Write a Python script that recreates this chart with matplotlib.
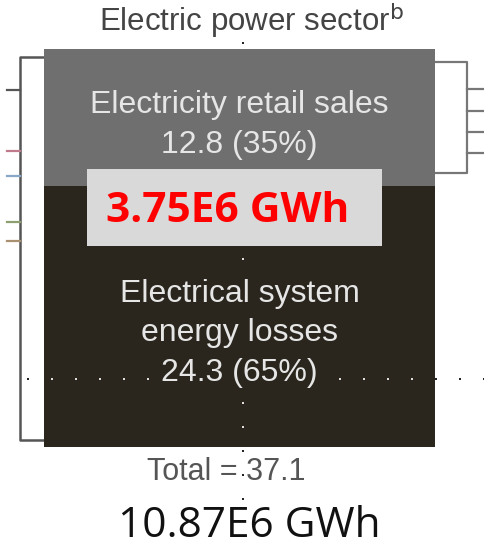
#!/usr/bin/env python3
"""
Electric power sector box: retail sales vs system energy losses
"""
import matplotlib
matplotlib.use("Agg")
import matplotlib.pyplot as plt
from matplotlib.patches import Rectangle

W, H = 485, 546

# Data
segments = ["Electricity retail sales", "Electrical system\nenergy losses"]
values = [12.8, 24.3]
shares = [35, 65]
total = 37.1
seg_colors = ["#6f6f6f", "#2a261d"]
overlay_label = "3.75E6 GWh"
total_label = "10.87E6 GWh"
title = "Electric power sector$^{\\mathrm{b}}$"

# Input / output flow colours (left and right of the box)
in_colors = ["#555555", "#c07a8c", "#8aa6c8", "#8ea070", "#a89070"]
in_rows = [90, 151, 176, 222, 241]
out_rows = [89, 111, 132, 153]

fig = plt.figure(figsize=(W / 100, H / 100), dpi=100)
fig.patch.set_facecolor("white")

# Overlay axes in pixel coordinates for the connector lines and labels
ov = fig.add_axes([0, 0, 1, 1], zorder=0)
ov.set_xlim(0, W)
ov.set_ylim(H, 0)
ov.axis("off")

line_kw = dict(color="#555555", lw=1.8, solid_capstyle="butt")
# left bracket
ov.plot([44, 20, 20, 44], [57, 57, 440, 440], **line_kw)
for y, c in zip(in_rows, in_colors):
    ov.plot([7, 20], [y, y], color=c, lw=1.6)
# right bracket
ov.plot([435, 467, 467, 435], [62, 62, 173, 173], color="#777777", lw=1.6)
for y in out_rows:
    ov.plot([467, 485], [y, y], color="#777777", lw=1.6)

# Stacked box drawn as a bar in value units
box = fig.add_axes([44 / W, 1 - 447 / H, (435 - 44) / W, (447 - 49) / H], zorder=1)
bottom = 0
for val, col in zip(values, seg_colors):
    box.bar(0.5, val, width=1.0, bottom=bottom, color=col, edgecolor="none")
    bottom += val
box.set_xlim(0, 1)
box.set_ylim(total, 0)
box.axis("off")

txt_kw = dict(ha="center", va="center", color="#e6e6e6", fontsize=23,
              family="Liberation Sans", linespacing=1.42)
box.text(0.5, 7.1, f"{segments[0]}\n{values[0]} ({shares[0]}%)", **txt_kw)
box.text(0.5, values[0] + 13.7, f"{segments[1]}\n{values[1]} ({shares[1]}%)",
         **txt_kw)

# Guide dots (PowerPoint grid)
top = fig.add_axes([0, 0, 1, 1], zorder=3)
top.set_xlim(0, W)
top.set_ylim(H, 0)
top.axis("off")

def inside_box(x, y):
    return 44 <= x <= 435 and 49 <= y <= 447

for x in range(28, 486, 24):
    if 160 < x < 330:
        continue
    top.plot(x, 379, marker="s", ms=1.6, mew=0,
             color="#dddddd" if inside_box(x, 379) else "#222222")
for y in range(43, 501, 24):
    if 50 < y < 380 and y != 259:
        continue
    top.plot(243, y, marker="s", ms=1.6, mew=0,
             color="#dddddd" if inside_box(243, y) else "#222222")

# Overlay value box
top.add_patch(Rectangle((87, 169), 295, 77, facecolor="#d9d9d9", edgecolor="none"))
top.text(228, 211, overlay_label, ha="center", va="center", color="#ff0000",
         fontsize=30.5, fontweight="bold", family="Open Sans")

# Titles and totals
top.text(252, 20, title, ha="center", va="center", color="#444444",
         fontsize=22.5, family="Liberation Sans")
top.text(226, 472, f"Total = {total}", ha="center", va="center", color="#555555",
         fontsize=22, family="Liberation Sans")
top.text(249, 526, total_label, ha="center", va="center", color="#111111",
         fontsize=30.5, family="Open Sans")

plt.savefig("out.png", dpi=100, facecolor="white")
plt.close()
